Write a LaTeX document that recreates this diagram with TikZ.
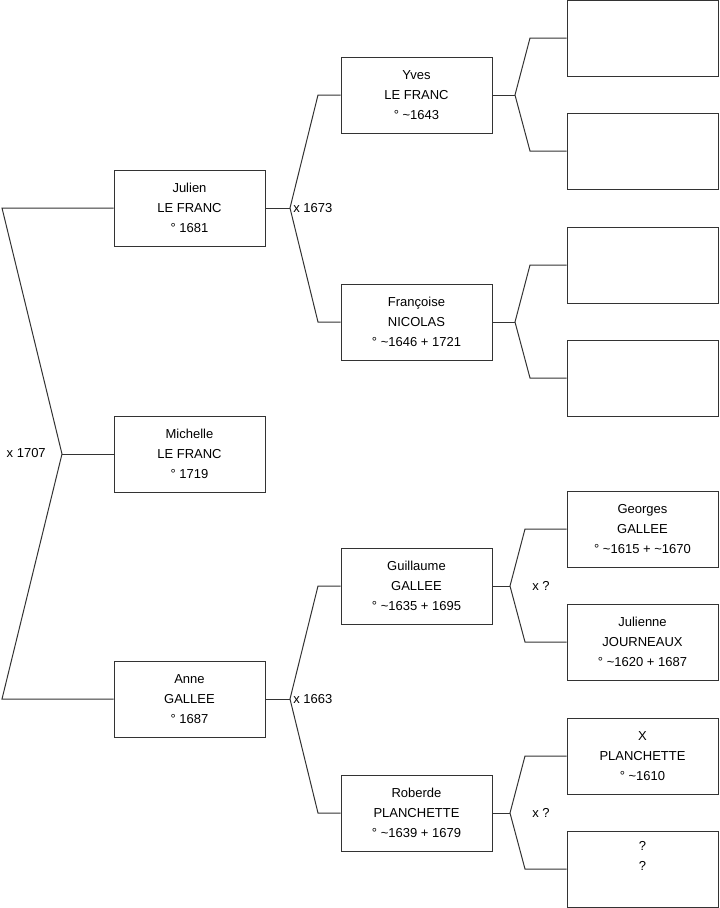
\documentclass[tikz,border=0pt]{standalone}
\usepackage{fontspec}
\setmainfont{Liberation Sans}

\begin{document}
\begin{tikzpicture}[x=0.75pt,y=-0.75pt,
  person/.style={draw=black!80,line width=0.75pt,minimum width=113.25pt,minimum height=57pt,inner sep=0pt,align=center,font=\fontsize{9.75}{15}\selectfont},
  link/.style={draw=black!80,line width=0.75pt},
  union/.style={inner sep=0pt,font=\fontsize{9.75}{12}\selectfont}]
\useasboundingbox (0,0) rectangle (719,908);
% persons
\node[person] (ju) at (189.5,208) {Julien\\LE FRANC\\° 1681};
\node[person] (mi) at (189.5,454) {Michelle\\LE FRANC\\° 1719};
\node[person] (an) at (189.5,699) {Anne\\GALLEE\\° 1687};
\node[person] (yv) at (416.5,95) {Yves\\LE FRANC\\° \textasciitilde1643};
\node[person] (fr) at (416.5,322) {Françoise\\NICOLAS\\° \textasciitilde1646 + 1721};
\node[person] (gu) at (416.5,586) {Guillaume\\GALLEE\\° \textasciitilde1635 + 1695};
\node[person] (ro) at (416.5,813) {Roberde\\PLANCHETTE\\° \textasciitilde1639 + 1679};
\node[person] (p1) at (642.5,38) {};
\node[person] (p2) at (642.5,151) {};
\node[person] (p3) at (642.5,265) {};
\node[person] (p4) at (642.5,378) {};
\node[person] (p5) at (642.5,529) {Georges\\GALLEE\\° \textasciitilde1615 + \textasciitilde1670};
\node[person] (p6) at (642.5,642) {Julienne\\JOURNEAUX\\° \textasciitilde1620 + 1687};
\node[person] (p7) at (642.5,756) {X\\PLANCHETTE\\° \textasciitilde1610};
\node[person] (p8) at (642.5,869) {?\\?\\\strut};

% Michelle's parents
\coordinate (mi-f) at (62,454);
\coordinate (mi-fu) at (2,208);
\coordinate (mi-fd) at (2,699);
\draw[link] (mi.west) -- (mi-f);
\draw[link] (ju.west) -- (mi-fu) -- (mi-f) -- (mi-fd) -- (an.west);
\node[union,anchor=east] (mi-x) at (46,453) {x 1707};

% the other unions
\foreach \c/\f/\m/\fx/\cx in {ju/yv/fr/290/318,an/gu/ro/290/318,yv/p1/p2/515/530,fr/p3/p4/515/530,gu/p5/p6/510/525,ro/p7/p8/510/525} {
  \coordinate (\c-f) at (\fx,0 |- \c.east);
  \coordinate (\c-fu) at (\cx,0 |- \f.west);
  \coordinate (\c-fd) at (\cx,0 |- \m.west);
  \draw[link] (\c.east) -- (\c-f);
  \draw[link] (\f.west) -- (\c-fu) -- (\c-f) -- (\c-fd) -- (\m.west);
}
\foreach \c/\lx/\lab in {ju/293/x 1673,an/293/x 1663,gu/532/x ?,ro/532/x ?}
  \node[union,anchor=west] (\c-x) at (\lx,0 |- \c.east) {\lab};
\end{tikzpicture}
\end{document}
